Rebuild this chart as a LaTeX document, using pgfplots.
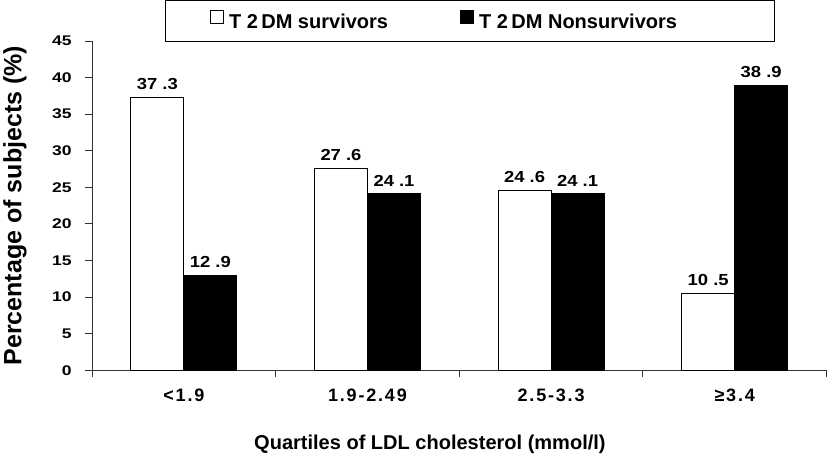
\documentclass[border=0pt]{standalone}
\usepackage{pgfplots}
\pgfplotsset{compat=1.18}
\usepackage{fontspec}
\setmainfont{Liberation Sans}
\newfontfamily\tickfam[FakeStretch=1.25]{Liberation Sans}
\newfontfamily\labfam[FakeStretch=1.15]{Liberation Sans}
\newfontfamily\catfam[LetterSpace=10]{Liberation Sans}

\pgfplotsset{
  mylegend/.style={legend image code/.code={\draw[##1, line width=1bp] (0bp,-1bp) rectangle (13bp,12bp); \path (16bp,0bp);}},
  mylabels/.style={nodes near coords, point meta=explicit symbolic,
    every node near coord/.append style={font=\labfam\bfseries\fontsize{16bp}{16bp}\selectfont, yshift=4bp, xshift=#1, black}},
}

\begin{document}
\begin{tikzpicture}
\begin{axis}[
  scale only axis, width=734bp, height=329bp,
  xmin=0, xmax=4, ymin=0, ymax=45,
  axis x line*=bottom, axis y line*=left,
  axis line style={black!80, line width=1bp, -},
  xtick={0,1,2,3,4},
  x tick label as interval,
  xticklabels={{<1.9},{1.9-2.49},{2.5-3.3},{≥3.4}},
  ytick={0,5,...,45},
  tick align=outside, major tick length=7bp,
  tick style={black!80, line width=1bp},
  /pgf/number format/assume math mode=true,
  yticklabel style={font=\tickfam\bfseries\fontsize{14bp}{14bp}\selectfont, xshift=-10bp},
  xticklabel style={font=\catfam\bfseries\fontsize{18bp}{18bp}\selectfont, yshift=-8bp},
  xlabel={Quartiles of LDL cholesterol (mmol/l)},
  ylabel={Percentage of subjects (\%)},
  every axis x label/.style={at={(axis description cs:0.46,0)}, anchor=center, yshift=-74bp, font=\bfseries\fontsize{20bp}{20bp}\selectfont},
  every axis y label/.style={at={(axis description cs:-0.1049,0.5)}, rotate=90, anchor=center, font=\bfseries\fontsize{25bp}{25bp}\selectfont},
  legend columns=2,
  legend style={at={(axis description cs:0.514,1)}, anchor=north, yshift=41bp,
    draw=black, line width=1bp, font=\bfseries\fontsize{20bp}{20bp}\selectfont,
    inner xsep=45bp, inner ysep=9bp,
    /tikz/every even column/.append style={column sep=70bp}},
  legend cell align=left,
]
\addplot[ybar, bar width=0.2888, bar shift=-0.1444, fill=white, draw=black, line width=1bp, mylegend, mylabels=-26.5bp]
  coordinates {(0.5,37.3)[37 .3] (1.5,27.6)[27 .6] (2.5,24.6)[24 .6] (3.5,10.5)[10 .5]};
\addlegendentry{T 2\,DM survivors}
\addplot[ybar, bar width=0.2888, bar shift=0.1444, fill=black, draw=black, line width=1bp, mylegend, mylabels=26.5bp]
  coordinates {(0.5,12.9)[12 .9] (1.5,24.1)[24 .1] (2.5,24.1)[24 .1] (3.5,38.9)[38 .9]};
\addlegendentry{T 2\,DM Nonsurvivors\rule{50bp}{0pt}}
\end{axis}
\end{tikzpicture}
\end{document}
